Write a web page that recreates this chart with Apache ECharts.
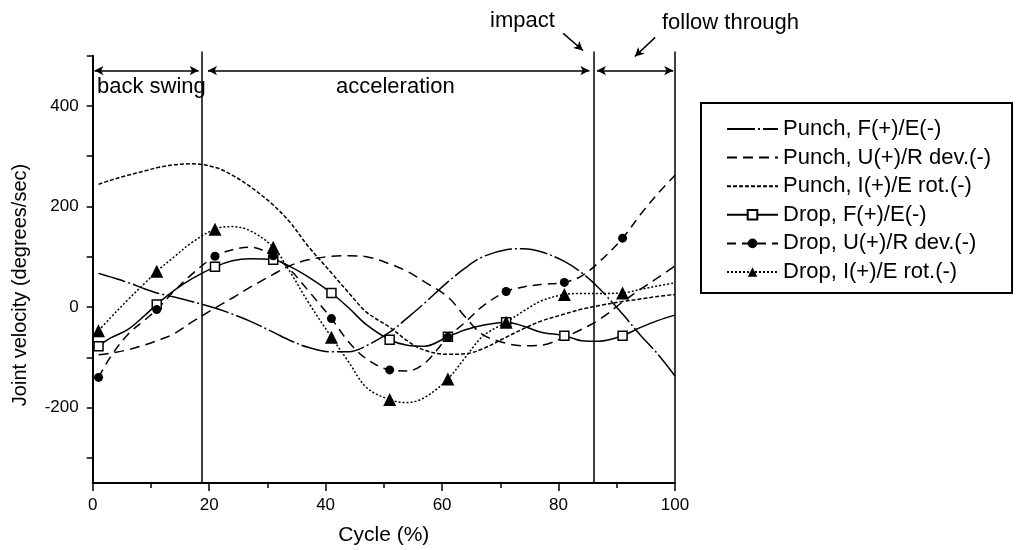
<!DOCTYPE html>
<html>
<head>
<meta charset="utf-8">
<script src="https://cdn.jsdelivr.net/npm/echarts@6/dist/echarts.min.js"></script>
<style>
  html, body { margin: 0; padding: 0; background: #fff; }
  #chart { width: 1016px; height: 550px; }
</style>
</head>
<body>
<div id="chart"></div>
<script>
const FONT = '"Liberation Sans", Arial, sans-serif';

// cycle (%) where the curves were read
const cycle = [1, 3, 6, 9, 11, 14, 17, 21, 24, 27, 31, 34, 37, 41, 44, 47, 51, 54, 57, 61, 64, 67, 71, 74, 77, 81, 84, 87, 91, 94, 97, 100];
// Drop curves carry a marker every 10 %
const markerCycles = [1, 11, 21, 31, 41, 51, 61, 71, 81, 91];

const punchFE = [67, 60, 49, 36, 28, 20, 11, -2, -14, -28, -50, -67, -80, -89, -89, -77, -50, -22, 8, 50, 78, 100, 114, 116, 110, 91, 68, 37, -14, -55, -93, -137];
const punchUR = [-95, -92, -85, -75, -67, -53, -30, -2, 18, 39, 65, 83, 94, 101, 102, 100, 86, 71, 50, 20, -20, -55, -72, -77, -76, -60, -44, -25, 10, 35, 58, 82];
const punchIE = [244, 252, 262, 271, 277, 283, 285, 278, 262, 240, 203, 167, 121, 68, 28, -10, -40, -67, -86, -94, -93, -83, -60, -43, -28, -14, -4, 3, 11, 16, 21, 25];
const dropFE = [-78, -62, -45, -16, 5, 33, 56, 80, 92, 96, 94, 80, 60, 28, -2, -35, -65, -76, -78, -59, -45, -36, -30, -38, -50, -57, -67, -68, -57, -41, -27, -16];
const dropUR = [-140, -100, -55, -25, -5, 32, 65, 101, 114, 119, 102, 73, 33, -23, -70, -103, -125, -127, -112, -60, -30, 2, 31, 40, 45, 49, 62, 90, 137, 183, 225, 262];
const dropIE = [-47, -22, 14, 48, 71, 100, 128, 155, 160, 152, 119, 68, 10, -60, -110, -160, -184, -190, -180, -143, -100, -58, -30, -8, 12, 25, 27, 27, 28, 35, 42, 48];

const names = ['Punch, F(+)/E(-)', 'Punch, U(+)/R dev.(-)', 'Punch, I(+)/E rot.(-)',
               'Drop, F(+)/E(-)', 'Drop, U(+)/R dev.(-)', 'Drop, I(+)/E rot.(-)'];

// phase boundaries (% cycle) and arrow height
const phaseLines = [18.7, 86, 100];
const arrowY = 470;

function toData(vals, marked) {
    return cycle.map((x, i) => {
        if (!marked || markerCycles.includes(x)) return [x, vals[i]];
        return { value: [x, vals[i]], symbol: 'none' };
    });
}

function lineSeries(name, vals, dash, symbol, symbolSize, fill) {
    const marked = symbol !== 'none';
    return {
        name: name,
        type: 'line',
        data: toData(vals, marked),
        smooth: 0.35,
        symbol: marked ? symbol : 'circle',
        symbolSize: symbolSize,
        showSymbol: marked,
        lineStyle: { color: '#000', width: 1.5, type: dash },
        // punch curves have no markers: keep their legend symbol invisible
        itemStyle: marked
            ? { color: fill, borderColor: '#000', borderWidth: fill === '#fff' ? 1.5 : 0 }
            : { color: 'rgba(0,0,0,0)', borderWidth: 0 },
        emphasis: { disabled: true },
        z: 3
    };
}

const chart = echarts.init(document.getElementById('chart'), null, { renderer: 'canvas' });

const arrowEnd = { symbol: 'arrow', symbolSize: [7, 9] };
const annotations = {
    type: 'line',
    xAxisIndex: 1, yAxisIndex: 1,
    data: [],
    clip: false,
    markLine: {
        silent: true,
        animation: false,
        label: { show: false },
        lineStyle: { color: '#000', type: 'solid', width: 1.5 },
        symbol: ['none', 'none'],
        data: phaseLines.map(x => [{ coord: [x, -350] }, { coord: [x, 508] }]).concat([
            [Object.assign({ coord: [0.3, arrowY] }, arrowEnd), Object.assign({ coord: [18.2, arrowY] }, arrowEnd)],
            [Object.assign({ coord: [19.8, arrowY] }, arrowEnd), Object.assign({ coord: [85.3, arrowY] }, arrowEnd)],
            [Object.assign({ coord: [86.6, arrowY] }, arrowEnd), Object.assign({ coord: [99.7, arrowY] }, arrowEnd)],
            [{ coord: [80.8, 544] }, Object.assign({ coord: [84.2, 510] }, arrowEnd)],
            [{ coord: [96.6, 536] }, Object.assign({ coord: [93.1, 498] }, arrowEnd)]
        ])
    }
};

chart.setOption({
    animation: false,
    backgroundColor: '#fff',
    textStyle: { fontFamily: FONT, color: '#000' },
    grid: [
        { left: 92.7, right: 341, top: 55.7, bottom: 67, outerBoundsMode: 'none' },
        { left: 92.7, right: 341, top: 5.2, bottom: 67, outerBoundsMode: 'none' }
    ],
    xAxis: [{
        type: 'value', min: 0, max: 100, interval: 20,
        name: 'Cycle (%)', nameLocation: 'middle', nameGap: 42,
        nameTextStyle: { fontSize: 21, color: '#000', fontFamily: FONT },
        axisLine: { show: true, onZero: false, lineStyle: { color: '#000', width: 2 } },
        axisTick: { show: true, inside: false, length: 8, lineStyle: { color: '#000', width: 1.5 } },
        minorTick: { show: true, splitNumber: 2, length: 5, lineStyle: { color: '#000', width: 1.5 } },
        axisLabel: { fontSize: 17, color: '#000', margin: 14, fontFamily: FONT },
        splitLine: { show: false }
    }, {
        gridIndex: 1, type: 'value', min: 0, max: 100, show: false
    }],
    yAxis: [{
        type: 'value', min: -350, max: 500, interval: 50,
        axisLine: { show: true, onZero: false, lineStyle: { color: '#000', width: 2 } },
        axisTick: { show: true, inside: false, length: 6, lineStyle: { color: '#000', width: 1.5 },
                    customValues: [-300, -200, -100, 0, 100, 200, 300, 400, 500] },
        axisLabel: { fontSize: 17, color: '#000', margin: 14, fontFamily: FONT,
                     customValues: [-200, 0, 200, 400] },
        splitLine: { show: false }
    }, {
        gridIndex: 1, type: 'value', min: -350, max: 600, show: false
    }],
    legend: {
        data: names,
        orient: 'vertical',
        left: 701, top: 103,
        padding: [15, 21, 10, 25],
        borderColor: '#000', borderWidth: 2,
        backgroundColor: '#fff',
        itemWidth: 51, itemHeight: 12, itemGap: 6.6,
        textStyle: { fontSize: 22, color: '#000', fontFamily: FONT, lineHeight: 22 },
        selectedMode: false
    },
    graphic: [
        { type: 'text', x: 20, y: 285, rotation: Math.PI / 2,
          style: { text: 'Joint velocity (degrees/sec)', font: '20px ' + FONT, fill: '#000', align: 'center', verticalAlign: 'middle' } },
        { type: 'text', left: 97, top: 76, style: { text: 'back swing', font: '22px ' + FONT, fill: '#000' } },
        { type: 'text', left: 336, top: 76, style: { text: 'acceleration', font: '22px ' + FONT, fill: '#000' } },
        { type: 'text', left: 490, top: 10, style: { text: 'impact', font: '22px ' + FONT, fill: '#000' } },
        { type: 'text', left: 662, top: 12, style: { text: 'follow through', font: '22px ' + FONT, fill: '#000' } }
    ],
    series: [
        lineSeries(names[0], punchFE, [28, 3, 2, 3], 'none', 0, '#000'),
        lineSeries(names[1], punchUR, [10, 6], 'none', 0, '#000'),
        lineSeries(names[2], punchIE, [4, 2], 'none', 0, '#000'),
        lineSeries(names[3], dropFE, 'solid', 'rect', 9, '#fff'),
        lineSeries(names[4], dropUR, [9, 6], 'circle', 9, '#000'),
        lineSeries(names[5], dropIE, [2, 2], 'triangle', 13, '#000'),
        annotations
    ]
});

window.addEventListener('resize', () => chart.resize());
</script>
</body>
</html>
